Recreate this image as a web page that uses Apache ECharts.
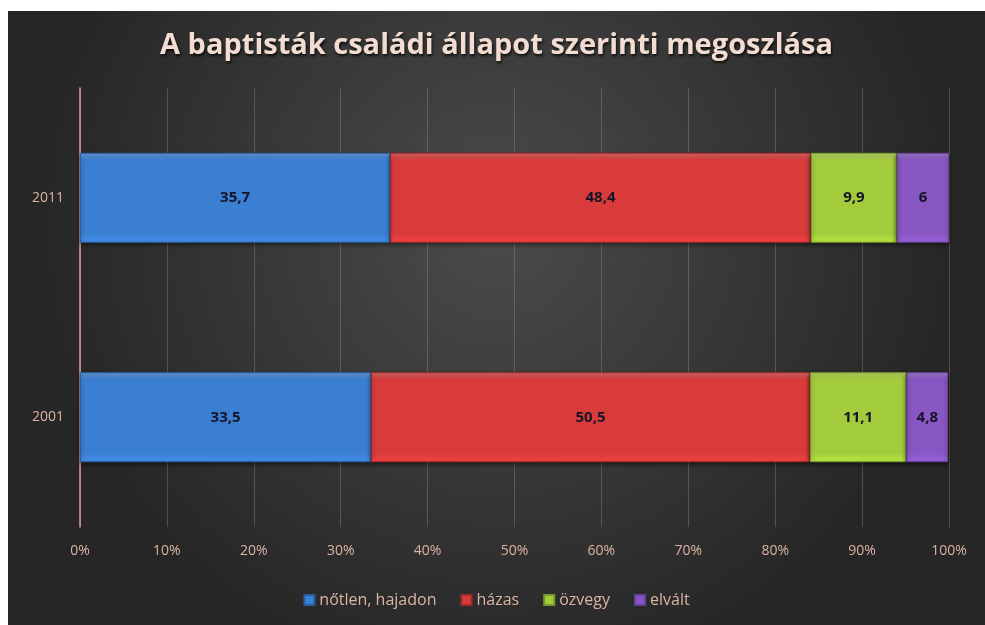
<!DOCTYPE html>
<html>
<head>
<meta charset="utf-8">
<script src="https://cdn.jsdelivr.net/npm/echarts@6/dist/echarts.min.js"></script>
<style>
html,body{margin:0;padding:0;background:#fff;width:985px;height:625px;overflow:hidden;}
#c{position:absolute;left:8px;top:11px;width:977px;height:614px;}
</style>
</head>
<body>
<div id="c"></div>
<script>
const titleText = 'A baptisták családi állapot szerinti megoszlása';
const years = ['2001', '2011'];
const seriesNames = ['nőtlen, hajadon', 'házas', 'özvegy', 'elvált'];
const notlen = [33.5, 35.7];
const hazas = [50.5, 48.4];
const ozvegy = [11.1, 9.9];
const elvalt = [4.8, 6];
const xTicks = [0, 10, 20, 30, 40, 50, 60, 70, 80, 90, 100];

const colors = ['#3b7fd2', '#d93b3b', '#a3cc3c', '#8857c4'];
const borders = ['#2a5f9e', '#a52a2a', '#7a9a2a', '#64409a'];
const values = [notlen, hazas, ozvegy, elvalt];

const chart = echarts.init(document.getElementById('c'));
const labelColor = '#dcb4a4';
chart.setOption({
  backgroundColor: {
    type: 'radial', x: 0.5, y: 0.35, r: 0.75,
    colorStops: [{offset: 0, color: '#4b4b4b'}, {offset: 1, color: '#262626'}]
  },
  title: {
    text: titleText, left: 'center', top: 15,
    textStyle: {
      color: '#f3ddd2', fontSize: 29, fontWeight: 'bold',
      fontFamily: 'Open Sans', textShadowColor: 'rgba(0,0,0,0.8)',
      textShadowBlur: 3, textShadowOffsetX: 1, textShadowOffsetY: 2
    }
  },
  legend: {
    bottom: 12, left: 'center', itemWidth: 10, itemHeight: 10, itemGap: 24,
    icon: 'rect',
    textStyle: {color: labelColor, fontSize: 16, fontFamily: 'Open Sans'},
    data: seriesNames
  },
  grid: {left: 72, right: 36, top: 77, bottom: 98},
  xAxis: {
    type: 'value', min: 0, max: 100, interval: 10,
    axisLine: {show: false}, axisTick: {show: false},
    axisLabel: {color: labelColor, fontSize: 14, margin: 17,
      fontFamily: 'Open Sans', formatter: v => v + '%'},
    splitLine: {show: true, lineStyle: {color: 'rgba(205,160,145,0.30)', width: 1}}
  },
  yAxis: {
    type: 'category', data: years,
    axisLine: {show: true, lineStyle: {color: '#d7a290', width: 1.5}},
    axisTick: {show: false},
    axisLabel: {color: labelColor, fontSize: 14, margin: 16, fontFamily: 'Open Sans'}
  },
  series: seriesNames.map((n, i) => ({
    name: n, type: 'bar', stack: 'total', barWidth: '41%',
    data: values[i],
    itemStyle: {
      color: {
        type: 'linear', x: 0, y: 0, x2: 0, y2: 1,
        colorStops: [
          {offset: 0, color: echarts.color.lift(colors[i], 0.25)},
          {offset: 0.08, color: colors[i]},
          {offset: 0.9, color: colors[i]},
          {offset: 1, color: echarts.color.lift(colors[i], -0.15)}
        ]
      },
      borderColor: borders[i], borderWidth: 1,
      shadowColor: 'rgba(0,0,0,0.5)', shadowBlur: 4, shadowOffsetY: 2
    },
    label: {
      show: true, position: 'inside', color: '#15152a', fontSize: 15,
      fontWeight: 'bold', fontFamily: 'Open Sans',
      formatter: p => String(p.value).replace('.', ',')
    }
  }))
});
</script>
</body>
</html>
